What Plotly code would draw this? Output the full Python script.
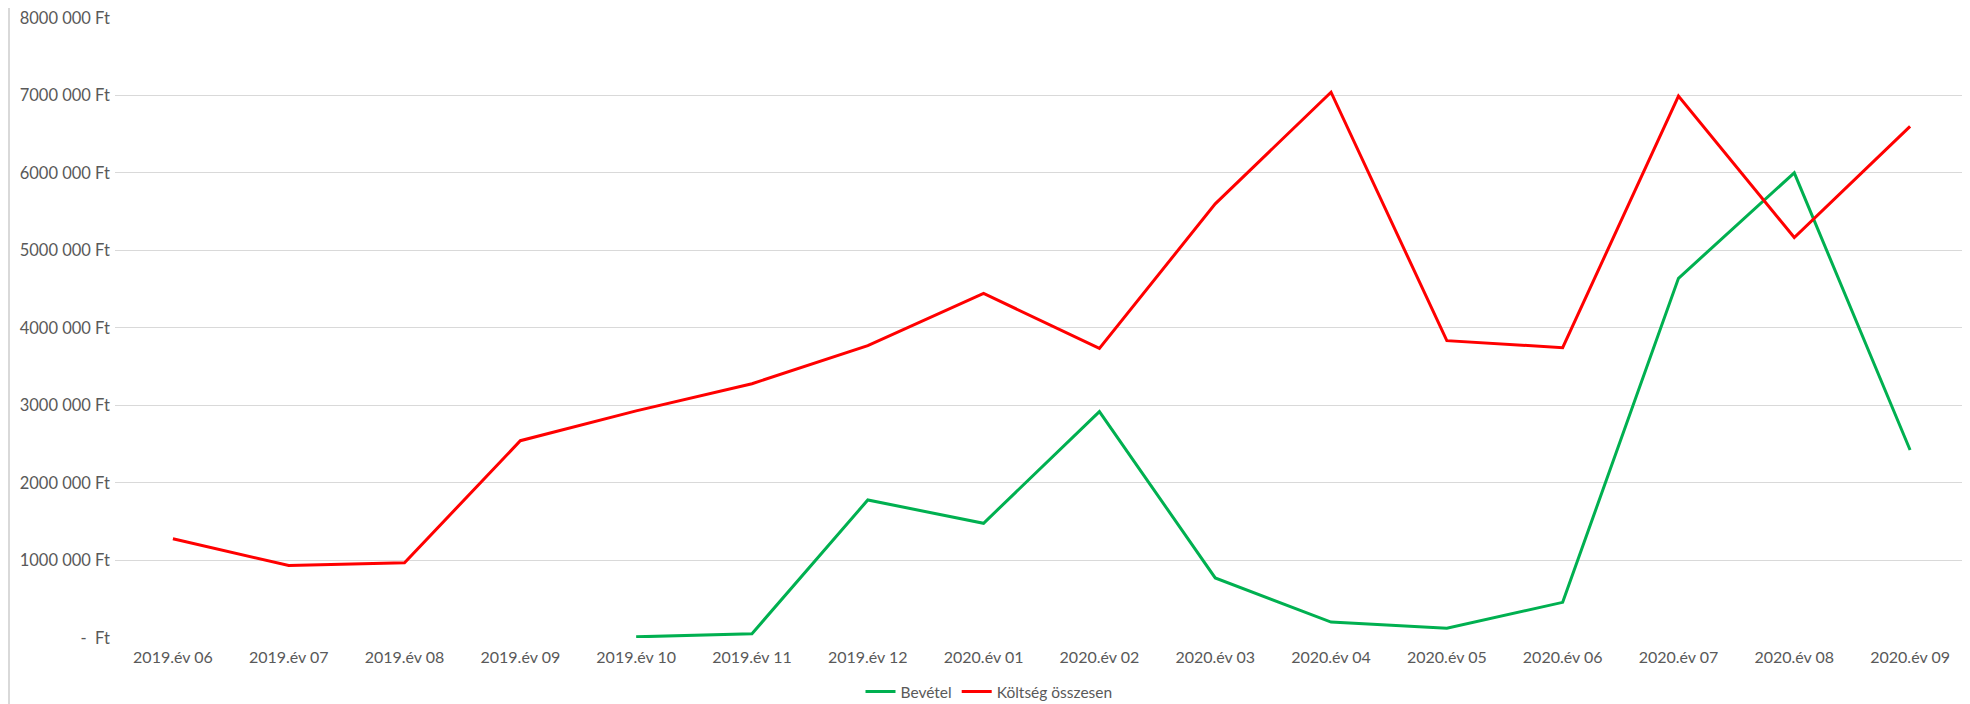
import plotly.graph_objects as go

categories = ["2019.év 06", "2019.év 07", "2019.év 08", "2019.év 09", "2019.év 10",
              "2019.év 11", "2019.év 12", "2020.év 01", "2020.év 02", "2020.év 03",
              "2020.év 04", "2020.év 05", "2020.év 06", "2020.év 07", "2020.év 08",
              "2020.év 09"]
bevetel = [None, None, None, None, 15000, 55000, 1780000, 1480000, 2920000, 775000,
           205000, 125000, 460000, 4640000, 6000000, 2425000]
koltseg = [1280000, 935000, 970000, 2545000, 2930000, 3280000, 3770000, 4445000,
           3735000, 5600000, 7040000, 3835000, 3745000, 6990000, 5165000, 6600000]
y_tickvals = [0, 1000000, 2000000, 3000000, 4000000, 5000000, 6000000, 7000000, 8000000]
y_ticktext = [" -  Ft", "1000 000 Ft", "2000 000 Ft", "3000 000 Ft", "4000 000 Ft",
              "5000 000 Ft", "6000 000 Ft", "7000 000 Ft", "8000 000 Ft"]

FONT = "Lato, Open Sans, sans-serif"
# page body has an 8px default margin; compensate so the chart lands where the reference is
W, H = 1962, 696
L, R, T, B = 107, 2, 9, 66
PW, PH = W - L - R, H - T - B

fig = go.Figure()
fig.add_trace(go.Scatter(x=categories, y=bevetel, name="Bevétel", mode="lines",
                         line=dict(color="#00B050", width=3), connectgaps=False))
fig.add_trace(go.Scatter(x=categories, y=koltseg, name="Költség összesen", mode="lines",
                         line=dict(color="#FF0000", width=3)))

fig.update_layout(
    width=W, height=H,
    margin=dict(l=L, r=R, t=T, b=B, autoexpand=False),
    paper_bgcolor="white", plot_bgcolor="white",
    font=dict(family=FONT, size=15, color="#595959"),
    showlegend=True,
    legend=dict(orientation="h", x=0.5, xanchor="center", xref="container",
                y=12 / H, yanchor="middle", yref="container",
                font=dict(size=15.5, color="#595959"), itemwidth=30,
                tracegroupgap=0),
    xaxis=dict(type="category", showgrid=False, zeroline=False, showline=False,
               ticks="", tickfont=dict(size=16, color="#595959"), automargin=False,
               ticklabelstandoff=8, ticklabeloverflow="allow",
               range=[-0.5, len(categories) - 0.5]),
    yaxis=dict(range=[0, 8010000], tickvals=y_tickvals, ticktext=y_ticktext,
               showgrid=True, gridcolor="#D9D9D9", gridwidth=1, zeroline=False,
               showline=False, ticks="", ticklabelstandoff=4, automargin=False,
               ticklabeloverflow="allow",
               tickfont=dict(size=16.5, color="#595959")),
    shapes=[dict(type="line", xref="paper", yref="paper", x0=-(L - 1) / PW, x1=-(L - 1) / PW,
                 y0=-B / PH, y1=1 + T / PH, line=dict(color="#D9D9D9", width=2))],
)
fig.write_html("out.html")
